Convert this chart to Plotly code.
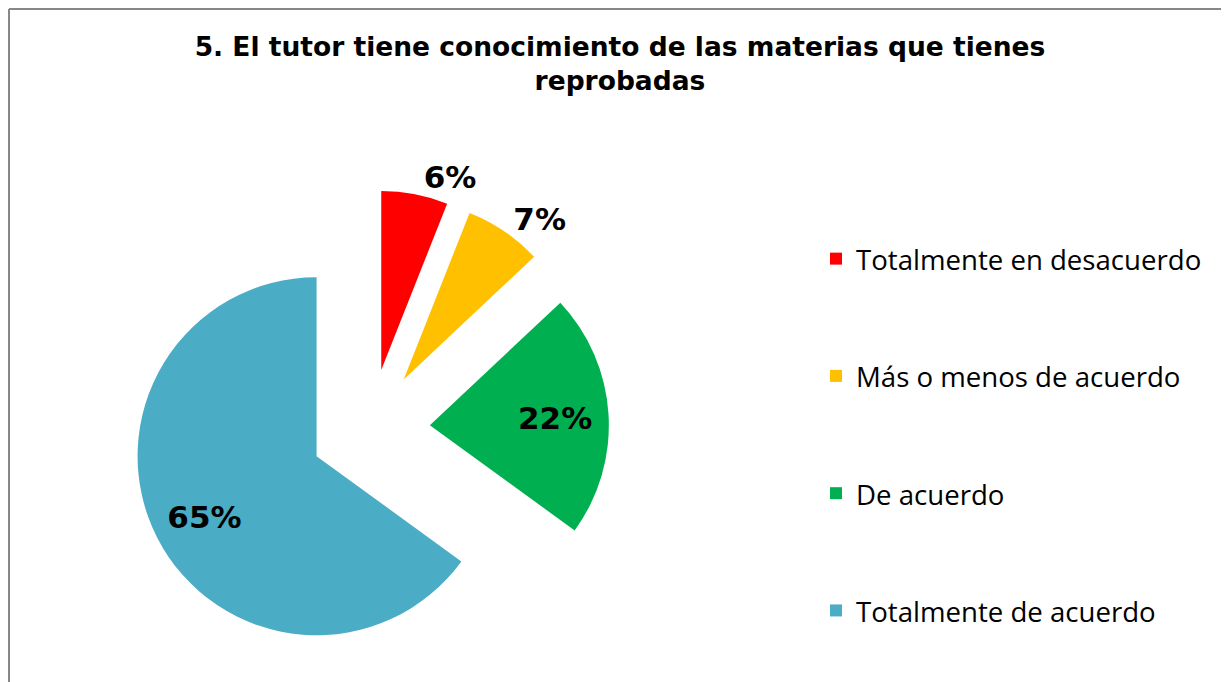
import plotly.graph_objects as go

W, H = 1229, 682

# data
labels = ["Totalmente en desacuerdo", "Más o menos de acuerdo",
          "De acuerdo", "Totalmente de acuerdo"]
values = [6, 7, 22, 65]
colors = ["#FF0000", "#FFC000", "#00B050", "#4BACC6"]
text_pos = ["outside", "outside", "inside", "inside"]

TITLE = "5. El tutor tiene conocimiento de las materias que tienes<br>reprobadas"

# page has an 8px body margin, so positions below are in plot pixels
cx, cy, r, pull = 362, 421, 179, 0.335
half = r * (1 + pull)

NB = "\u00a0"
PCT = "%{percent:.0%}"
# padding nudges the inside labels to where Excel put them
templates = [PCT, PCT, NB * 3 + PCT, NB + "<br>" + PCT + NB * 6]


def legend_label(s):
    # blank lines above/below to open up the legend spacing
    return (NB + "<br><span style='font-size:27.6px'>" + s +
            "</span><br>" + NB)


fig = go.Figure(go.Pie(
    labels=[legend_label(l) for l in labels], values=values,
    sort=False, direction="clockwise", rotation=0,
    marker=dict(colors=colors, line=dict(width=0)),
    pull=[pull] * len(values),
    texttemplate=templates, textposition=text_pos,
    insidetextorientation="horizontal",
    textfont=dict(family="DejaVu Sans", size=31, color="black", weight="bold"),
    hoverinfo="skip",
    domain=dict(x=[(cx - half) / W, (cx + half) / W],
                y=[1 - (cy + half) / H, 1 - (cy - half) / H]),
))

# left and top frame lines only (chart area continues past the crop)
fig.add_shape(type="line", xref="paper", yref="paper",
              x0=1 / W, x1=1 / W, y0=-0.05, y1=1 - 1 / H,
              line=dict(color="#878787", width=2))
fig.add_shape(type="line", xref="paper", yref="paper",
              x0=1 / W, x1=1.05, y0=1 - 1 / H, y1=1 - 1 / H,
              line=dict(color="#878787", width=2))

fig.update_layout(
    width=W, height=H,
    margin=dict(l=0, r=0, t=0, b=0, autoexpand=False),
    paper_bgcolor="white", plot_bgcolor="white",
    title=dict(text=TITLE, x=612 / W, xanchor="center",
               y=1 - 48 / H, yanchor="top", yref="container",
               font=dict(family="DejaVu Sans", size=26.5, color="black",
                         weight="bold")),
    showlegend=True,
    legend=dict(x=808 / W, xanchor="left", y=1 - 187 / H, yanchor="top",
                xref="container", yref="container", maxheight=H,
                font=dict(family="Open Sans", size=29.3, color="#000000"),
                bgcolor="rgba(0,0,0,0)"),
)

fig.write_html("out.html")
